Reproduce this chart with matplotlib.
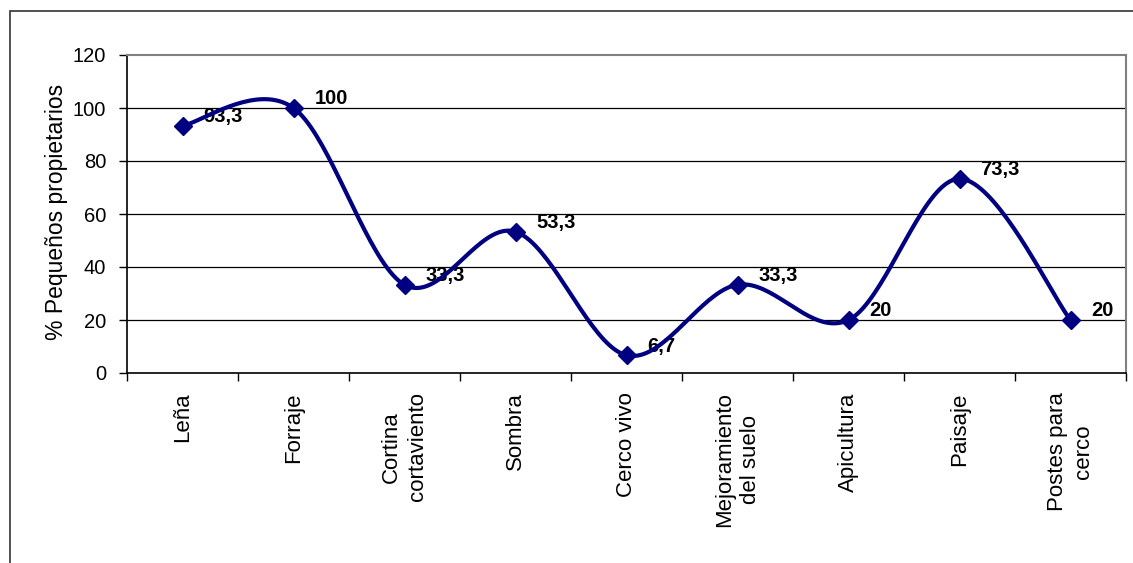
import matplotlib
matplotlib.use("Agg")
import matplotlib.pyplot as plt
from matplotlib.patches import Rectangle
import numpy as np

plt.rcParams["font.family"] = ["Liberation Sans", "DejaVu Sans"]

CATEGORIES = [
    "Leña",
    "Forraje",
    "Cortina\ncortaviento",
    "Sombra",
    "Cerco vivo",
    "Mejoramiento\ndel suelo",
    "Apicultura",
    "Paisaje",
    "Postes para\ncerco",
]
VALUES = [93.3, 100, 33.3, 53.3, 6.7, 33.3, 20, 73.3, 20]
Y_TICKS = [0, 20, 40, 60, 80, 100, 120]
Y_LABEL = "% Pequeños propietarios"

NAVY = "#000080"


def smooth_curve(xs, ys, steps=40):
    """Bezier smoothing through every point (spreadsheet-style smoothed line)."""
    xs = np.asarray(xs, dtype=float)
    ys = np.asarray(ys, dtype=float)
    n = len(xs)
    out_x, out_y = [], []
    t = np.linspace(0, 1, steps)
    for i in range(n - 1):
        p0 = np.array([xs[i], ys[i]])
        p1 = np.array([xs[i + 1], ys[i + 1]])
        prev = np.array([xs[max(i - 1, 0)], ys[max(i - 1, 0)]])
        nxt = np.array([xs[min(i + 2, n - 1)], ys[min(i + 2, n - 1)]])
        c1 = p0 + (p1 - prev) / 6.0
        c2 = p1 - (nxt - p0) / 6.0
        b = ((1 - t) ** 3)[:, None] * p0 + (3 * (1 - t) ** 2 * t)[:, None] * c1 \
            + (3 * (1 - t) * t ** 2)[:, None] * c2 + (t ** 3)[:, None] * p1
        out_x.extend(b[:, 0])
        out_y.extend(b[:, 1])
    return np.array(out_x), np.array(out_y)


def fmt_value(v):
    if float(v).is_integer():
        return str(int(v))
    return f"{v:.1f}".replace(".", ",")


fig = plt.figure(figsize=(11.33, 5.63), dpi=100)
ax = fig.add_axes([127 / 1133, 1 - 373 / 563, 999 / 1133, 318 / 563])

# outer chart frame (only left and top edges fall inside the image)
fig.patches.append(Rectangle((10 / 1133, -0.2), 1.5, 1 - 11 / 563 + 0.2,
                             transform=fig.transFigure, fill=False,
                             edgecolor="#333333", linewidth=1.2))

x = np.arange(len(VALUES))
sx, sy = smooth_curve(x, VALUES)

for yv in Y_TICKS[1:-1]:
    ax.axhline(yv, color="black", linewidth=0.9, zorder=1)

for xi, v in zip(x, VALUES):
    ax.annotate(fmt_value(v), (xi, v), xytext=(15, 6.5), textcoords="offset points",
                ha="left", va="center", fontsize=14.5, fontweight="bold", zorder=2)

ax.plot(sx, sy, color=NAVY, linewidth=3, solid_capstyle="round", zorder=3)
ax.plot(x, VALUES, linestyle="none", marker="D", markersize=9,
        color=NAVY, zorder=4)

ax.set_xlim(-0.5, len(VALUES) - 0.5)
ax.set_ylim(0, 120)
ax.set_yticks(Y_TICKS)
ax.tick_params(axis="y", direction="out", length=6, width=1, labelsize=14.5, pad=9)

ax.set_xticks(x)
ax.set_xticklabels(CATEGORIES, rotation=90, fontsize=16, linespacing=1.3)
for lbl in ax.get_xticklabels():
    lbl.set_multialignment("center")
ax.set_xticks(np.arange(len(VALUES) + 1) - 0.5, minor=True)
ax.tick_params(axis="x", which="major", length=0, pad=14)
ax.tick_params(axis="x", which="minor", direction="out", length=6, width=1)

for side in ("top", "right"):
    ax.spines[side].set_color("#808080")
    ax.spines[side].set_linewidth(1.5)
for side in ("left", "bottom"):
    ax.spines[side].set_color("black")
    ax.spines[side].set_linewidth(1.2)

fig.text(57 / 1133, 1 - 212 / 563, Y_LABEL, rotation=90, fontsize=16.5,
         ha="center", va="center")

fig.savefig("out.png", dpi=100)
